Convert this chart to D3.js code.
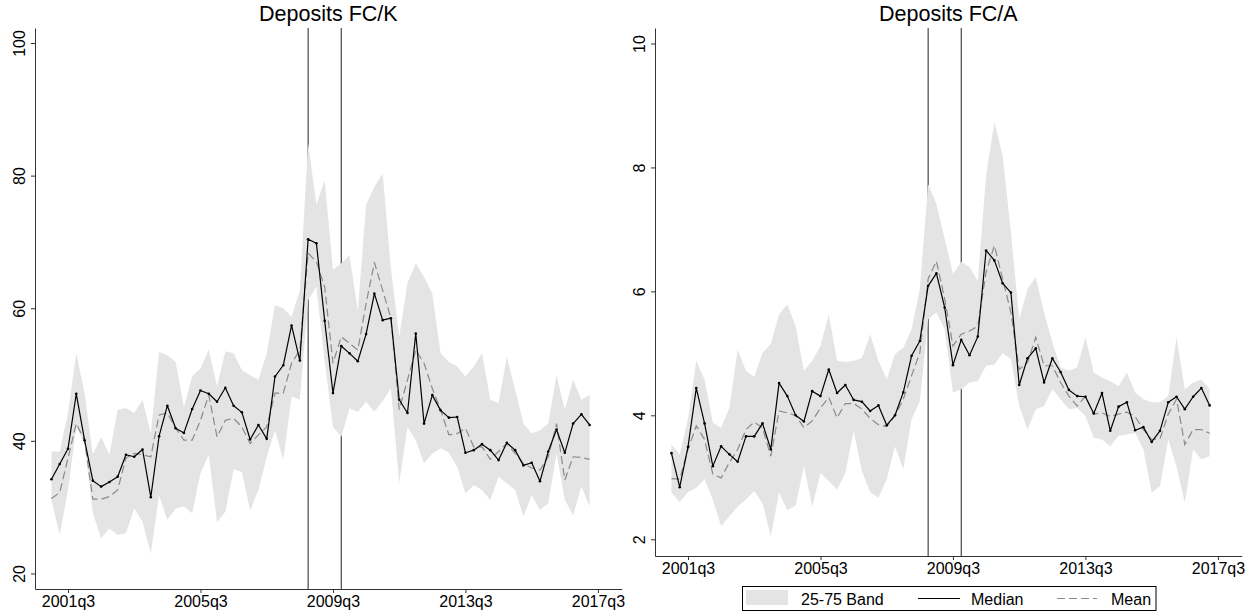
<!DOCTYPE html>
<meta charset="utf-8">
<style>
    body { margin: 0; background: #fff; }
    text { font-family: Arial, "Liberation Sans", Helvetica, sans-serif; fill: #000; }
    .band { fill: #e4e4e4; stroke: none; }
    .median { fill: none; stroke: #000; stroke-width: 1.2; stroke-linejoin: round; }
    .mean { fill: none; stroke: #8a8a8a; stroke-width: 1.2; stroke-dasharray: 8,4; }
    .crisis { stroke: #222; stroke-width: 1; }
    .axis path, .axis line { stroke: #333; stroke-width: 1; }
    .axis text { font-size: 16px; }
    .title { font-size: 21.5px; }
    .legend text { font-size: 16px; }
</style>
<body>
<svg></svg>
</body>
<script src="https://d3js.org/d3.v7.min.js"></script>
<script>
    // quarters 2001q1 .. 2017q2
    var quarters = [];
    for (var yr = 2001; yr <= 2017; yr++) {
        for (var q = 1; q <= 4; q++) {
            if (yr === 2017 && q > 2) break;
            quarters.push(yr + "q" + q);
        }
    }
    var tickLabels = ["2001q3", "2005q3", "2009q3", "2013q3", "2017q3"];
    var crisisQuarters = ["2008q4", "2009q4"];

    // Deposits FC/K
    var medianK = [34.2, 36.5, 38.8, 47.1, 40.1, 34.0, 33.1, 33.8, 34.6, 37.9,
        37.6, 38.7, 31.5, 40.7, 45.3, 41.9, 41.2, 44.8, 47.6, 47.1,
        45.9, 48.0, 45.3, 44.3, 40.2, 42.4, 40.3, 49.7, 51.4, 57.4,
        52.1, 70.4, 69.8, 58.1, 47.2, 54.3, 53.2, 52.0, 56.1, 62.2,
        58.2, 58.5, 46.2, 44.2, 56.2, 42.6, 46.9, 44.6, 43.5, 43.6,
        38.2, 38.6, 39.5, 38.6, 37.1, 39.7, 38.6, 36.3, 36.7, 33.9,
        38.4, 41.7, 38.2, 42.6, 44.0, 42.4];
    var meanK = [31.3, 32.2, 37.4, 42.6, 40.1, 31.2, 31.2, 31.6, 32.6, 37.4,
        38.1, 37.9, 37.6, 43.9, 44.2, 41.9, 40.1, 40.1, 43.1, 46.9,
        40.6, 43.1, 43.4, 42.1, 39.6, 40.9, 42.1, 47.2, 47.2, 51.7,
        53.7, 68.3, 67.0, 63.2, 51.7, 55.7, 54.7, 53.7, 60.7, 66.9,
        62.7, 58.5, 44.7, 49.2, 53.7, 51.7, 47.9, 44.7, 40.9, 41.1,
        41.9, 39.1, 39.1, 37.2, 38.4, 39.6, 38.1, 36.6, 35.9, 35.6,
        37.6, 42.6, 34.1, 37.6, 37.5, 37.2];
    var p25K = [31.1, 25.8, 32.6, 42.1, 39.6, 29.1, 25.3, 26.8, 25.8, 26.1,
        29.8, 27.8, 23.0, 31.8, 28.1, 29.8, 30.1, 29.1, 35.1, 37.9,
        27.7, 29.3, 35.7, 35.3, 29.5, 32.6, 37.6, 41.6, 37.1, 46.7,
        46.2, 61.2, 63.2, 52.0, 42.1, 40.6, 44.9, 44.4, 45.9, 44.4,
        46.0, 47.9, 33.6, 42.1, 40.1, 36.6, 38.1, 38.9, 38.2, 36.1,
        32.1, 33.3, 32.6, 31.1, 34.6, 33.6, 32.6, 28.6, 31.8, 29.6,
        30.6, 38.1, 31.1, 28.8, 33.1, 30.1];
    var p75K = [38.4, 38.4, 44.2, 53.2, 47.2, 37.9, 40.6, 37.9, 44.7, 44.9,
        44.2, 46.2, 41.1, 53.4, 52.9, 51.9, 45.1, 49.7, 50.9, 53.8,
        48.2, 53.5, 53.2, 50.7, 49.9, 49.2, 53.2, 60.5, 60.0, 58.7,
        62.7, 84.9, 75.6, 79.3, 65.8, 66.8, 68.0, 59.5, 75.6, 78.3,
        80.3, 66.0, 55.7, 63.8, 66.8, 64.7, 62.2, 53.2, 51.9, 51.2,
        49.7, 51.2, 53.2, 46.2, 45.7, 52.7, 47.7, 42.6, 41.1, 41.6,
        42.6, 49.9, 44.7, 49.2, 46.2, 46.9];

    // Deposits FC/A
    var medianA = [3.39, 2.84, 3.49, 4.44, 3.87, 3.18, 3.50, 3.37, 3.25, 3.66,
        3.66, 3.87, 3.45, 4.52, 4.31, 4.00, 3.90, 4.39, 4.31, 4.74,
        4.36, 4.49, 4.25, 4.22, 4.07, 4.16, 3.84, 4.00, 4.37, 4.96,
        5.20, 6.09, 6.29, 5.74, 4.81, 5.22, 4.97, 5.27, 6.66, 6.50,
        6.13, 5.98, 4.49, 4.92, 5.08, 4.53, 4.92, 4.70, 4.41, 4.31,
        4.30, 4.03, 4.36, 3.75, 4.14, 4.21, 3.76, 3.81, 3.57, 3.75,
        4.21, 4.30, 4.10, 4.30, 4.44, 4.16];
    var meanA = [2.98, 2.97, 3.45, 3.83, 3.61, 3.05, 2.99, 3.24, 3.45, 3.77,
        3.89, 3.80, 3.34, 4.07, 4.04, 4.00, 3.80, 3.91, 4.12, 4.29,
        3.96, 4.19, 4.19, 4.10, 3.95, 3.85, 3.82, 3.99, 4.26, 4.64,
        5.01, 6.20, 6.49, 5.88, 5.12, 5.31, 5.36, 5.44, 6.31, 6.74,
        6.20, 5.66, 4.74, 4.85, 5.26, 4.80, 4.80, 4.53, 4.31, 4.15,
        4.31, 4.02, 4.04, 3.98, 4.02, 4.05, 3.98, 3.77, 3.61, 3.62,
        4.02, 4.26, 3.53, 3.77, 3.77, 3.71];
    var p25A = [2.75, 2.60, 2.76, 2.83, 2.97, 2.64, 2.21, 2.37, 2.53, 2.64,
        2.78, 2.58, 2.05, 2.75, 2.47, 2.54, 3.18, 2.53, 3.07, 2.94,
        2.80, 3.07, 3.75, 3.10, 2.76, 2.67, 2.97, 3.50, 3.13, 3.94,
        4.23, 5.55, 5.66, 5.39, 4.37, 4.42, 4.53, 4.55, 4.80, 4.82,
        5.00, 4.91, 4.15, 3.77, 4.10, 4.15, 4.42, 4.26, 4.10, 4.12,
        3.99, 3.64, 3.61, 3.50, 3.67, 3.69, 3.72, 3.45, 2.75, 2.86,
        3.61, 3.18, 2.59, 3.45, 3.29, 3.34];
    var p75A = [3.53, 3.37, 3.94, 4.88, 4.58, 3.88, 3.80, 4.12, 5.06, 4.72,
        4.62, 5.01, 5.15, 5.63, 5.79, 5.44, 4.72, 4.88, 5.12, 5.63,
        4.88, 4.86, 4.88, 4.92, 5.31, 4.88, 4.58, 4.99, 5.09, 5.39,
        6.04, 7.73, 7.41, 6.85, 6.28, 6.48, 6.39, 6.17, 7.87, 8.73,
        8.19, 6.95, 5.55, 6.04, 6.23, 5.66, 5.18, 4.77, 4.72, 4.77,
        5.26, 4.69, 4.61, 4.55, 4.47, 4.69, 4.37, 4.26, 4.21, 4.21,
        4.31, 5.26, 4.42, 4.53, 4.58, 4.42];

    var yTicksK = [20, 40, 60, 80, 100];
    var yTicksA = [2, 4, 6, 8, 10];

    var width = 1252, height = 613;
    var svg = d3.select("svg").attr("width", width).attr("height", height);

    var panels = [
        {title: "Deposits FC/K", left: 35, top: 28, bottom: 589, domain: [17.66, 102.26], ticks: yTicksK,
            median: medianK, mean: meanK, p25: p25K, p75: p75K},
        {title: "Deposits FC/A", left: 655, top: 28, bottom: 556, domain: [1.73, 10.25], ticks: yTicksA,
            median: medianA, mean: meanA, p25: p25A, p75: p75A}
    ];
    var plotW = 586.7;

    panels.forEach(function (p) {
        var x = d3.scaleLinear().domain([-1.985, 68.87]).range([0, plotW]);
        var y = d3.scaleLinear().domain(p.domain).range([p.bottom - p.top, 0]);
        var rows = quarters.map(function (d, i) {
            return {i: i, q: d, med: p.median[i], mean: p.mean[i], lo: p.p25[i], hi: p.p75[i]};
        });

        var g = svg.append("g").attr("transform", "translate(" + p.left + "," + p.top + ")");

        // crisis markers (under the band)
        g.selectAll(".crisis")
            .data(crisisQuarters)
            .enter().append("line")
            .attr("class", "crisis")
            .attr("x1", function (d) { return x(quarters.indexOf(d)); })
            .attr("x2", function (d) { return x(quarters.indexOf(d)); })
            .attr("y1", 0)
            .attr("y2", p.bottom - p.top);

        g.append("path")
            .datum(rows)
            .attr("class", "band")
            .attr("d", d3.area()
                .x(function (d) { return x(d.i); })
                .y0(function (d) { return y(d.lo); })
                .y1(function (d) { return y(d.hi); }));

        g.append("path")
            .datum(rows)
            .attr("class", "mean")
            .attr("d", d3.line()
                .x(function (d) { return x(d.i); })
                .y(function (d) { return y(d.mean); }));

        g.append("path")
            .datum(rows)
            .attr("class", "median")
            .attr("d", d3.line()
                .x(function (d) { return x(d.i); })
                .y(function (d) { return y(d.med); }));

        g.selectAll(".dot")
            .data(rows)
            .enter().append("circle")
            .attr("class", "dot")
            .attr("cx", function (d) { return x(d.i); })
            .attr("cy", function (d) { return y(d.med); })
            .attr("r", 1.3)
            .style("fill", "#000");

        // axes
        var xAxis = d3.axisBottom(x)
            .tickValues(tickLabels.map(function (t) {
                var yy = +t.slice(0, 4), qq = +t.slice(5);
                return (yy - 2001) * 4 + (qq - 1);
            }))
            .tickFormat(function (v) { return tickLabels[Math.round((v - 2) / 16)]; })
            .tickSize(4)
            .tickSizeOuter(0);
        g.append("g")
            .attr("class", "axis")
            .attr("transform", "translate(0," + (p.bottom - p.top) + ")")
            .call(xAxis);

        var yAxis = d3.axisLeft(y)
            .tickValues(p.ticks)
            .tickSize(4)
            .tickSizeOuter(0);
        var ya = g.append("g")
            .attr("class", "axis")
            .call(yAxis);
        ya.selectAll("text")
            .attr("x", 0)
            .attr("dy", 0)
            .attr("text-anchor", "middle")
            .attr("transform", "translate(-10,0) rotate(-90)");

        svg.append("text")
            .attr("class", "title")
            .attr("x", p.left + plotW / 2)
            .attr("y", 21)
            .attr("text-anchor", "middle")
            .text(p.title);
    });

    // legend
    var lg = svg.append("g").attr("class", "legend");
    lg.append("rect")
        .attr("x", 742.5).attr("y", 586.5)
        .attr("width", 413.5).attr("height", 24)
        .style("fill", "#fff").style("stroke", "#000").style("stroke-width", 1);
    lg.append("rect")
        .attr("x", 746).attr("y", 590)
        .attr("width", 42).attr("height", 15)
        .attr("class", "band");
    lg.append("text").attr("x", 801).attr("y", 604.5).text("25-75 Band");
    lg.append("line")
        .attr("x1", 918).attr("x2", 960).attr("y1", 598.5).attr("y2", 598.5)
        .attr("class", "median");
    lg.append("text").attr("x", 971).attr("y", 604.5).text("Median");
    lg.append("line")
        .attr("x1", 1057).attr("x2", 1097).attr("y1", 598.5).attr("y2", 598.5)
        .attr("class", "mean");
    lg.append("text").attr("x", 1111).attr("y", 604.5).text("Mean");
</script>
</html>
